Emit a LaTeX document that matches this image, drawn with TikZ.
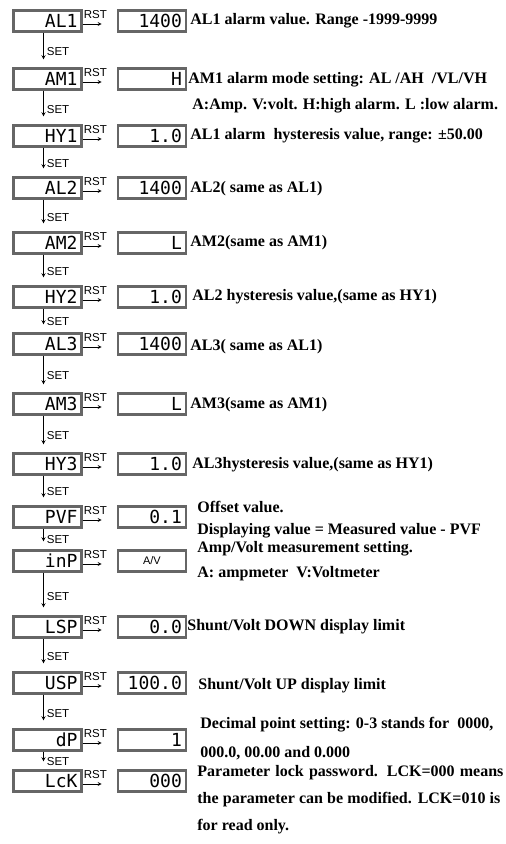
\documentclass[tikz,border=0pt]{standalone}
\usepackage{fontspec}
\setmainfont{Liberation Serif}
\setsansfont{Liberation Sans}
\newfontfamily\lcdfont{DejaVu Sans Mono}
\usetikzlibrary{positioning}

\begin{document}
\begin{tikzpicture}[x=1pt,y=-1pt,>=stealth,line width=0.8pt,
    lcd/.style={draw=black!60, line width=2.4pt, text width=60pt, align=right,
        inner xsep=4pt, inner ysep=0pt, minimum height=21pt,
        font=\lcdfont\fontsize{18}{18}\selectfont},
    val/.style={lcd, right=34pt of #1},
    desc/.style={anchor=west, inner sep=0pt, font=\bfseries\fontsize{16}{18}\selectfont},
    lbl/.style={inner sep=1pt, font=\sffamily\fontsize{11.5}{12}\selectfont}]
    \useasboundingbox (0,0) rectangle (506,844);

    % parameter menu (left) and value shown (right)
    \node (al1) [lcd] at (47.5,21) {AL1};
    \node (am1) [lcd] at (47.5,79) {AM1};
    \node (hy1) [lcd] at (47.5,136) {HY1};
    \node (al2) [lcd] at (47.5,188) {AL2};
    \node (am2) [lcd] at (47.5,243) {AM2};
    \node (hy2) [lcd] at (47.5,297) {HY2};
    \node (al3) [lcd] at (47.5,344) {AL3};
    \node (am3) [lcd] at (47.5,404) {AM3};
    \node (hy3) [lcd] at (47.5,464) {HY3};
    \node (pvf) [lcd] at (47.5,517) {PVF};
    \node (inp) [lcd] at (47.5,561) {inP};
    \node (lsp) [lcd] at (47.5,627) {LSP};
    \node (usp) [lcd] at (47.5,683) {USP};
    \node (dp) [lcd] at (47.5,740) {dP};
    \node (lck) [lcd] at (47.5,781) {LcK};

    \node (al1v) [val=al1] {1400};
    \node (am1v) [val=am1] {H};
    \node (hy1v) [val=hy1] {1.0};
    \node (al2v) [val=al2] {1400};
    \node (am2v) [val=am2] {L};
    \node (hy2v) [val=hy2] {1.0};
    \node (al3v) [val=al3] {1400};
    \node (am3v) [val=am3] {L};
    \node (hy3v) [val=hy3] {1.0};
    \node (pvfv) [val=pvf] {0.1};
    \node (inpv) [val=inp, align=center, font=\sffamily\fontsize{11}{11}\selectfont] {A/V};
    \node (lspv) [val=lsp] {0.0};
    \node (uspv) [val=usp] {100.0};
    \node (dpv) [val=dp] {1};
    \node (lckv) [val=lck] {000};

    % RST arrows
    \foreach \p in {al1,am1,hy1,al2,am2,hy2,al3,am3,hy3,pvf,inp,lsp,usp,dp,lck}
        \draw[->, shorten >=15pt] ([yshift=-3pt]\p.east) -- node[lbl, above=4pt, pos=0.37] {RST} ([yshift=-3pt]\p.east -| \p v.west);

    % SET arrows
    \foreach \a/\b in {al1/am1,am1/hy1,hy1/al2,al2/am2,am2/hy2,hy2/al3,al3/am3,am3/hy3,hy3/pvf,pvf/inp,inp/lsp,lsp/usp,usp/dp,dp/lck}
        \draw[->, shorten >=8pt] ([xshift=-4pt]\a.south) -- node[lbl, right=2pt, pos=0.55] {SET} ([xshift=-4pt]\a.south |- \b.north);

    % descriptions
    \node (d1) [desc] at (190,21) {AL1 alarm value. Range -1999-9999};
    \node (d2) [desc] at (188,80) {AM1 alarm mode setting: AL /AH~ /VL/VH};
    \node (d2b) [desc] at (192,106) {A:Amp. V:volt. H:high alarm. L :low alarm.};
    \node (d3) [desc] at (190,136) {AL1 alarm~ hysteresis value, range: ±50.00};
    \node (d4) [desc] at (190,189) {AL2( same as AL1)};
    \node (d5) [desc] at (190,243) {AM2(same as AM1)};
    \node (d6) [desc] at (192,297) {AL2 hysteresis value,(same as HY1)};
    \node (d7) [desc] at (190,347) {AL3( same as AL1)};
    \node (d8) [desc] at (190,405) {AM3(same as AM1)};
    \node (d9) [desc] at (192,465) {AL3hysteresis value,(same as HY1)};
    \node (d10) [desc] at (197,507) {Offset value.};
    \node (d10b) [desc] at (197,531) {Displaying value = Measured value - PVF};
    \node (d11) [desc] at (197,549) {Amp/Volt measurement setting.};
    \node (d11b) [desc] at (197,574) {A: ampmeter~ V:Voltmeter};
    \node (d12) [desc] at (187,627) {Shunt/Volt DOWN display limit};
    \node (d13) [desc] at (198,686) {Shunt/Volt UP display limit};
    \node (d14) [desc] at (200,725) {Decimal point setting: 0-3 stands for~ 0000,};
    \node (d14b) [desc] at (200,753) {000.0, 00.00 and 0.000};
    \node (d15) [desc] at (197,773) {\makebox[306pt][s]{Parameter lock password. LCK=000 means}};
    \node (d15b) [desc] at (197,800) {\makebox[303pt][s]{the parameter can be modified. LCK=010 is}};
    \node (d15c) [desc] at (197,827) {for read only.};
\end{tikzpicture}
\end{document}
